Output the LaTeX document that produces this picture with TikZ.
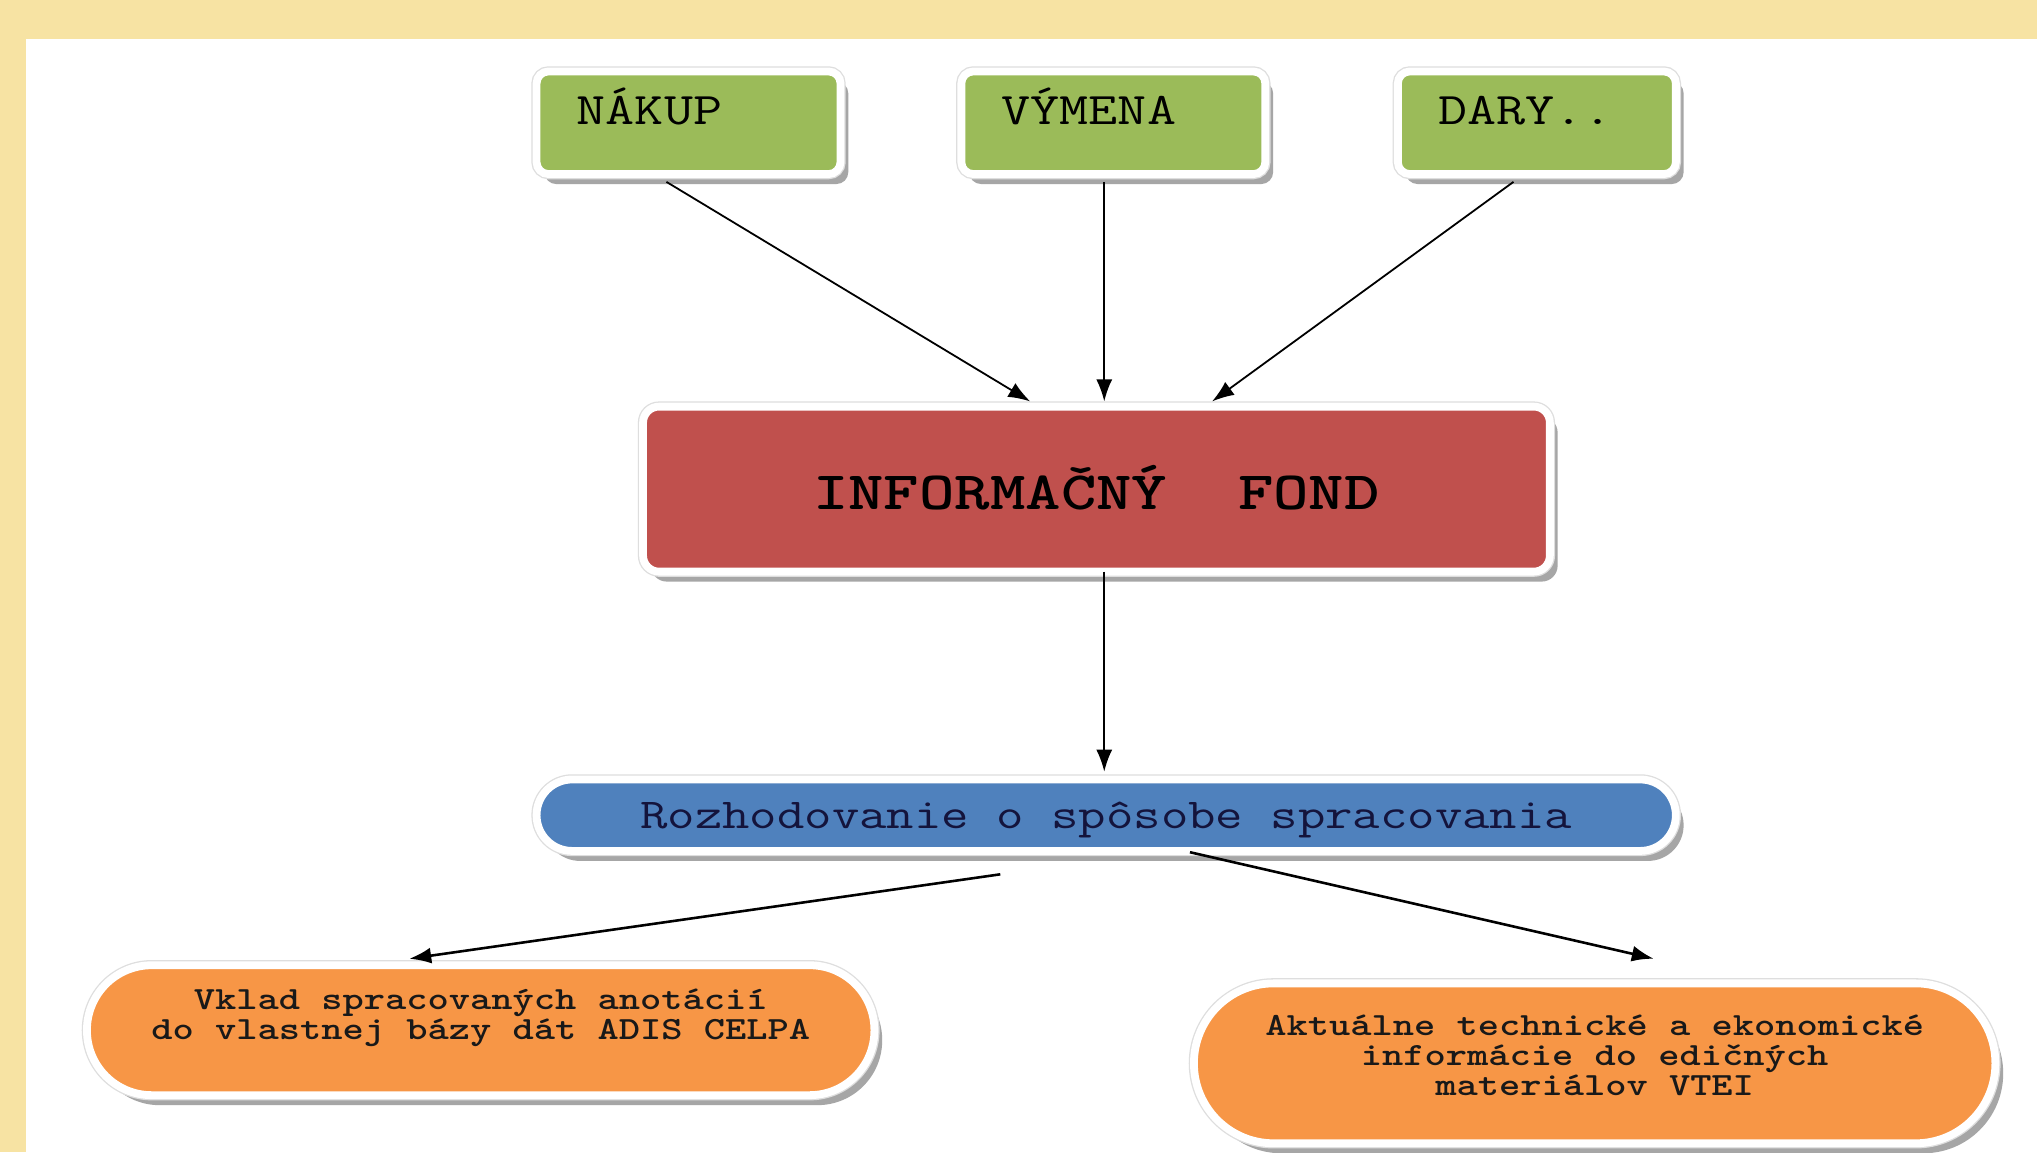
\documentclass[tikz,border=0pt]{standalone}
\usepackage{graphicx}
\usepackage{xcolor}
\usepackage{tikz}
\usetikzlibrary{positioning,calc,shadows,arrows.meta}

\definecolor{bgyellow}{HTML}{F7E3A3}
\definecolor{srcgreen}{HTML}{9BBB59}
\definecolor{fondred}{HTML}{C0504D}
\definecolor{decblue}{HTML}{4F81BD}
\definecolor{outorange}{HTML}{F79646}
\definecolor{navytext}{HTML}{14143C}
\newcommand{\wide}[1]{\scalebox{1.25}[1]{#1}}

\begin{document}
\begin{tikzpicture}[x=0.65pt,y=-0.65pt,
  box/.style={draw=white,line width=3.9pt,outer sep=0pt,inner sep=0pt,
    drop shadow={shadow xshift=3.9pt,shadow yshift=-5pt,fill=black!35,opacity=1},
    preaction={draw=black!13,line width=5.2pt}},
  srcbox/.style={box,rounded corners=6pt,fill=srcgreen,minimum height=51.35pt,
    align=left,text height=15pt,text depth=13pt,font=\ttfamily\fontsize{22.6}{26}\selectfont},
  fondbox/.style={box,rounded corners=8pt,fill=fondred,minimum width=453.7pt,minimum height=82.55pt,
    text height=20.6pt,text depth=0pt,font=\ttfamily\bfseries\fontsize{27}{30}\selectfont},
  decbox/.style={box,rounded corners=17.8pt,fill=decblue,minimum width=570pt,minimum height=35.75pt,
    text=navytext,text height=13pt,text depth=0pt,font=\ttfamily\fontsize{21.3}{24}\selectfont},
  outbox/.style={box,fill=outorange,text=black!90,font=\ttfamily\bfseries\fontsize{16.2}{15}\selectfont},
  conn/.style={-{Latex[length=11pt,width=8pt]},line width=0.9pt}]
% Spracovanie informacneho fondu
\useasboundingbox (0,0) rectangle (1568,887);
\fill[bgyellow] (0,0) rectangle (1568,887);
\fill[white] (20,30) rectangle (1568,887);

\node[srcbox,minimum width=152.1pt,text width=111.8pt] (nakup) at (530,94.5) {\wide{NÁKUP}};
\node[srcbox,minimum width=152.1pt,text width=111.8pt] (vymena) at (857,94.5) {\wide{VÝMENA}};
\node[srcbox,minimum width=139.1pt,text width=98.8pt] (dary) at (1183,94.5) {\wide{DARY..}};
\node[fondbox] (fond) at (844,376.5) {\wide{INFORMAČNÝ~~FOND}};
\node[decbox] (rozh) at (851.5,627.5) {\wide{Rozhodovanie o spôsobe spracovania}};
\node[outbox,minimum width=394pt,minimum height=65pt,rounded corners=32.4pt] (vklad) at (370,793)
  {\raisebox{1.35pt}[0pt][0pt]{\wide{\begin{tabular}{@{}c@{}}Vklad spracovaných anotácií\\do vlastnej bázy dát ADIS CELPA\end{tabular}}}};
\node[outbox,minimum width=401pt,minimum height=80pt,rounded corners=39.9pt] (vtei) at (1227.5,818.5)
  {\raisebox{-2.4pt}[0pt][0pt]{\wide{\begin{tabular}{@{}c@{}}Aktuálne technické a ekonomické\\informácie do edičných\\materiálov VTEI\end{tabular}}}};

\draw[conn] ($(nakup.south)+(-17,6)$) -- ($(fond.north)+(-51,-4)$);
\draw[conn] ($(vymena.south)+(-7,6)$) -- ($(fond.north)+(6,-4)$);
\draw[conn] ($(dary.south)+(-18,6)$) -- ($(fond.north)+(89,-4)$);
\draw[conn] ($(fond.south)+(6,0)$) -- ($(rozh.north)+(-1.5,-6)$);
\draw[conn,line width=1.3pt] ($(rozh.south)+(-81.5,18)$) -- ($(vklad.north)+(-55,-5)$);
\draw[conn,line width=1.3pt] ($(rozh.south)+(64.5,1)$) -- ($(vtei.north)+(45.5,-19)$);
\end{tikzpicture}
\end{document}
